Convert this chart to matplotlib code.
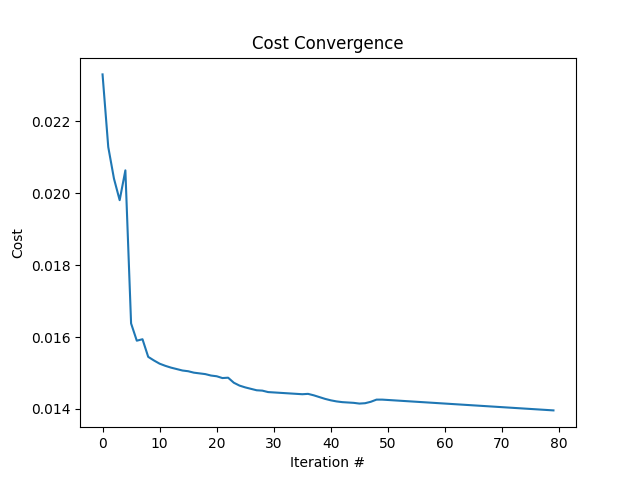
import numpy as np
import matplotlib
matplotlib.use("Agg")
import matplotlib.pyplot as plt

# cost per iteration
cost = [0.02331, 0.02129, 0.02041, 0.01981, 0.02064, 0.01638, 0.01590, 0.01594, 0.01545, 0.01535,
        0.01526, 0.01520, 0.01515, 0.01511, 0.01507, 0.01505, 0.01501, 0.01499, 0.01497, 0.01493,
        0.01491, 0.01486, 0.01487, 0.01473, 0.01465, 0.01460, 0.01456, 0.01452, 0.01451, 0.01447,
        0.01446, 0.01445, 0.01444, 0.01443, 0.01442, 0.01441, 0.01442, 0.01438, 0.01433, 0.01428,
        0.01424, 0.01421, 0.01419, 0.01418, 0.01417, 0.01415, 0.01416, 0.01420, 0.01426, 0.01426,
        0.01425, 0.01424, 0.01423, 0.01422, 0.01421, 0.01420, 0.01419, 0.01418, 0.01417, 0.01416,
        0.01415, 0.01414, 0.01413, 0.01412, 0.01411, 0.01410, 0.01409, 0.01408, 0.01407, 0.01406,
        0.01405, 0.01404, 0.01403, 0.01402, 0.01401, 0.01400, 0.01399, 0.01398, 0.01397, 0.01396]
iters = np.arange(len(cost))

plt.figure(figsize=(6.4, 4.8), dpi=100)
plt.plot(iters, cost)
plt.title('Cost Convergence')
plt.xlabel('Iteration #')
plt.ylabel('Cost')
plt.savefig('out.png')
